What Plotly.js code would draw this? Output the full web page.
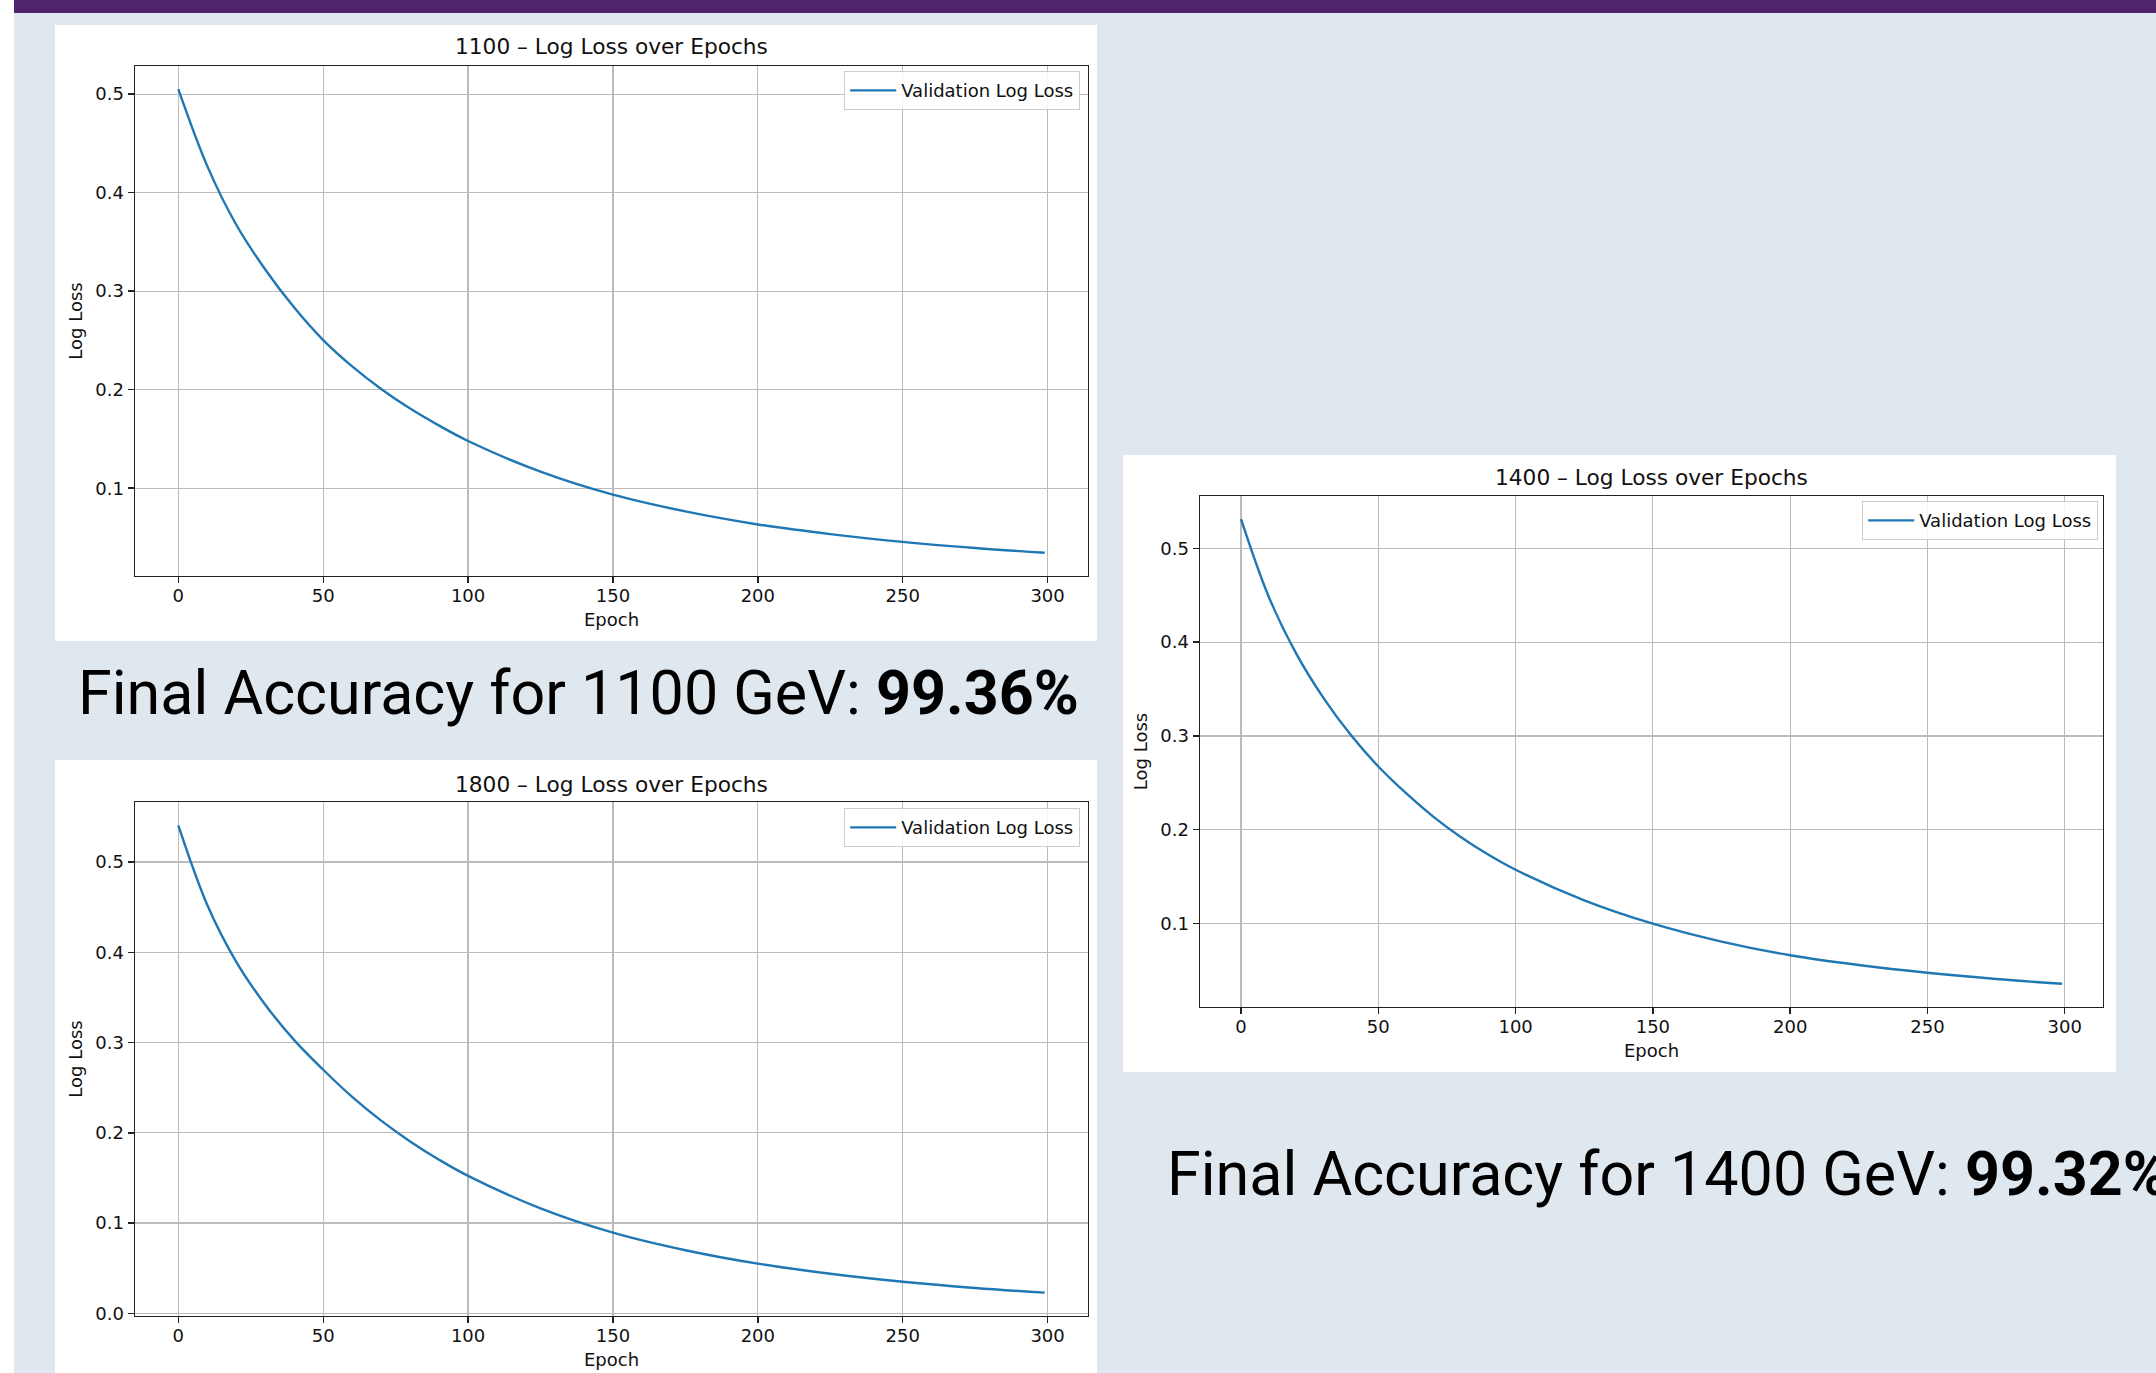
<!DOCTYPE html>
<html>
<head>
<meta charset="utf-8">
<script src="https://cdn.plot.ly/plotly-3.0.1.min.js"></script>
<style>
  html, body { margin: 0; padding: 0; background: #dfe7ef; }
  #chart { width: 2156px; height: 1373px; }
</style>
</head>
<body>
<div id="chart"></div>
<script>
// ---- Data ----
const epochs = [0, 10, 20, 30, 40, 50, 60, 70, 80, 90, 100, 125, 150, 175, 200, 225, 250, 275, 299];
const loss1100 = [0.505, 0.4269, 0.3674, 0.3220, 0.2833, 0.2503, 0.2236, 0.2007, 0.1808, 0.1635, 0.1479, 0.1168, 0.0934, 0.0764, 0.0632, 0.0534, 0.0455, 0.0393, 0.0344];
const loss1800 = [0.5407, 0.4525, 0.3895, 0.3420, 0.3027, 0.2699, 0.2398, 0.2135, 0.1905, 0.1702, 0.1523, 0.1163, 0.0894, 0.0699, 0.0550, 0.0438, 0.0350, 0.0281, 0.0229];
const loss1400 = [0.531, 0.4489, 0.3883, 0.3406, 0.3009, 0.2674, 0.2392, 0.2140, 0.1923, 0.1736, 0.1574, 0.1248, 0.0999, 0.0808, 0.0662, 0.0558, 0.0475, 0.0409, 0.0358];
const chartTitles = ["1100 – Log Loss over Epochs", "1800 – Log Loss over Epochs", "1400 – Log Loss over Epochs"];
const seriesName = "Validation Log Loss";
const xLabel = "Epoch";
const yLabel = "Log Loss";
const xTicks = [0, 50, 100, 150, 200, 250, 300];
const accuracyTexts = ["Final Accuracy for 1100 GeV: <b>99.36%</b>", "Final Accuracy for 1400 GeV: <b>99.32%</b>"];

// ---- Layout helpers ----
const W = 2156, H = 1373;
const px = v => v / W;
const py = v => 1 - v / H;
const FONT = "DejaVu Sans, Verdana, sans-serif";
const LINE = "#1f77b4";

function padRange(arr) {
  const lo = Math.min(...arr), hi = Math.max(...arr);
  const m = 0.05 * (hi - lo);
  return [lo - m, hi + m];
}
const xr = padRange(epochs);

function xaxis(x0, x1, anchor) {
  return {
    domain: [px(x0), px(x1)], anchor: anchor, range: xr,
    tickvals: xTicks,
    showline: true, mirror: true, linecolor: "#222", linewidth: 1.4,
    showgrid: true, gridcolor: "#bbbbbb", gridwidth: 1.2, zeroline: false,
    ticks: "outside", ticklen: 6, tickwidth: 1.4, tickcolor: "#222",
    ticklabelstandoff: -3,
    tickfont: {family: FONT, size: 18, color: "#111"},
    title: {text: xLabel, font: {family: FONT, size: 18, color: "#111"}, standoff: 8}
  };
}
function yaxis(y0, y1, anchor, data) {
  return {
    domain: [py(y1), py(y0)], anchor: anchor, range: padRange(data),
    dtick: 0.1, tick0: 0, tickformat: ".1f",
    showline: true, mirror: true, linecolor: "#222", linewidth: 1.4,
    showgrid: true, gridcolor: "#bbbbbb", gridwidth: 1.2, zeroline: false,
    ticks: "outside", ticklen: 6, tickwidth: 1.4, tickcolor: "#222",
    tickfont: {family: FONT, size: 18, color: "#111"},
    title: {text: yLabel, font: {family: FONT, size: 18, color: "#111"}, standoff: 8}
  };
}

function lineTrace(y, xa, ya, lg) {
  return {x: epochs, y: y, type: "scatter", mode: "lines", name: seriesName,
          line: {color: LINE, width: 2.4, shape: "spline", smoothing: 1},
          xaxis: xa, yaxis: ya, legend: lg};
}
const traces = [
  lineTrace(loss1100, "x", "y", "legend"),
  lineTrace(loss1800, "x2", "y2", "legend2"),
  lineTrace(loss1400, "x3", "y3", "legend3")
];

function legendAt(right, top) {
  return {
    x: px(right), xanchor: "right", y: py(top), yanchor: "top",
    bgcolor: "rgba(255,255,255,0.85)", bordercolor: "#cccccc", borderwidth: 1.2,
    itemwidth: 46,
    font: {family: FONT, size: 18, color: "#111"}
  };
}

function rect(x0, y0, x1, y1, color) {
  return {type: "rect", xref: "paper", yref: "paper", x0: px(x0), x1: px(x1), y0: py(y1), y1: py(y0),
          fillcolor: color, line: {width: 0}, layer: "below"};
}

const layout = {
  width: W, height: H,
  margin: {l: 0, r: 0, t: 0, b: 0},
  paper_bgcolor: "#dfe7ef", plot_bgcolor: "#ffffff",
  showlegend: true,
  xaxis: xaxis(135, 1088, "y"), yaxis: yaxis(66, 576, "x", loss1100),
  xaxis2: xaxis(135, 1088, "y2"), yaxis2: yaxis(802, 1316, "x2", loss1800),
  xaxis3: xaxis(1200, 2103, "y3"), yaxis3: yaxis(496, 1007, "x3", loss1400),
  legend: legendAt(1080, 71),
  legend2: legendAt(1080, 808),
  legend3: legendAt(2098, 501),
  shapes: [
    rect(0, 0, 14, H, "#ffffff"),
    rect(14, 0, W, 13, "#50236f"),
    rect(55, 25, 1097, 641, "#ffffff"),
    rect(55, 760, 1097, H, "#ffffff"),
    rect(1123, 455, 2116, 1072, "#ffffff")
  ],
  annotations: [
    {text: chartTitles[0], xref: "paper", yref: "paper", x: px(611.5), y: py(47), xanchor: "center", yanchor: "middle",
     showarrow: false, font: {family: FONT, size: 21.7, color: "#111"}},
    {text: chartTitles[1], xref: "paper", yref: "paper", x: px(611.5), y: py(784), xanchor: "center", yanchor: "middle",
     showarrow: false, font: {family: FONT, size: 21.7, color: "#111"}},
    {text: chartTitles[2], xref: "paper", yref: "paper", x: px(1651.5), y: py(477), xanchor: "center", yanchor: "middle",
     showarrow: false, font: {family: FONT, size: 21.7, color: "#111"}},
    {text: accuracyTexts[0], xref: "paper", yref: "paper", x: px(76), y: py(693), xanchor: "left", yanchor: "middle",
     showarrow: false, font: {family: "Roboto, sans-serif", size: 61, color: "#000"}},
    {text: accuracyTexts[1], xref: "paper", yref: "paper", x: px(1165), y: py(1174), xanchor: "left", yanchor: "middle",
     showarrow: false, font: {family: "Roboto, sans-serif", size: 61, color: "#000"}}
  ]
};

Plotly.newPlot("chart", traces, layout, {displayModeBar: false, staticPlot: true});
</script>
</body>
</html>
